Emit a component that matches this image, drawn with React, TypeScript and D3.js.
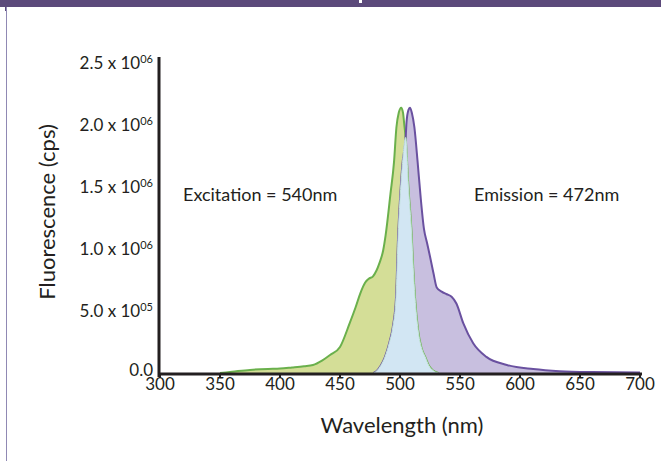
import React from "react";
import * as d3 from "d3";

const excitationNm = [350, 360, 375, 390, 400, 410, 420, 427.5, 435, 441.7, 450, 458, 463, 467, 471, 474, 477.5, 483, 486, 488, 492, 495, 497, 499, 501, 502.5, 503.6, 504.7, 507, 509.7, 511, 512.5, 515, 518, 521, 524, 527.5, 532];
const excitationVal = [0, 0.01, 0.025, 0.033, 0.036, 0.045, 0.055, 0.065, 0.1, 0.145, 0.21, 0.4, 0.53, 0.645, 0.73, 0.76, 0.78, 0.89, 0.99, 1.11, 1.44, 1.7, 1.98, 2.1, 2.14, 2.1, 2.0, 1.9, 1.5, 1.12, 0.85, 0.61, 0.35, 0.2, 0.13, 0.06, 0.02, 0];

const emissionNm = [478, 481, 484, 487.5, 491, 494, 496.7, 498.3, 500, 502, 504.7, 505.5, 507, 508.3, 509.8, 512, 514.7, 517, 520, 522.5, 525, 528, 530.6, 534.7, 539, 543, 547, 552.8, 561, 572, 589, 611, 633, 660, 700];
const emissionVal = [0, 0.02, 0.06, 0.13, 0.24, 0.37, 0.61, 1.07, 1.4, 1.68, 1.9, 2.03, 2.12, 2.14, 2.1, 1.98, 1.7, 1.44, 1.16, 1.05, 0.94, 0.8, 0.69, 0.656, 0.635, 0.615, 0.56, 0.4, 0.24, 0.13, 0.065, 0.032, 0.015, 0.008, 0.005];

const overlapNm = [478, 481, 484, 487.5, 491, 494, 496.7, 498.3, 500, 502, 504.7, 507, 509.7, 511, 512.5, 515, 518, 521, 524, 527.5, 532];
const overlapVal = [0, 0.02, 0.06, 0.13, 0.24, 0.37, 0.61, 1.07, 1.4, 1.68, 1.9, 1.5, 1.12, 0.85, 0.61, 0.35, 0.2, 0.13, 0.06, 0.02, 0];

const xTicks = [300, 350, 400, 450, 500, 550, 600, 650, 700];
const yTicks = [0, 0.5, 1.0, 1.5, 2.0, 2.5];
const yTickMain = ["0.0", "5.0 x 10", "1.0 x 10", "1.5 x 10", "2.0 x 10", "2.5 x 10"];
const yTickSup = ["", "05", "06", "06", "06", "06"];

const FONT = "Lato, 'Open Sans', sans-serif";
const TEXT = "#231f20";

export default function App() {
  const x = d3.scaleLinear().domain([300, 700]).range([160, 640]);
  const y = d3.scaleLinear().domain([0, 2.5]).range([373, 63]);

  const mk = (nm: number[], v: number[]) => nm.map((n, i) => [n, v[i]] as [number, number]);
  const area = d3.area<[number, number]>().x(d => x(d[0])).y0(y(0)).y1(d => y(d[1])).curve(d3.curveMonotoneX);
  const line = d3.line<[number, number]>().x(d => x(d[0])).y(d => y(d[1])).curve(d3.curveMonotoneX);

  const ex = mk(excitationNm, excitationVal);
  const em = mk(emissionNm, emissionVal);
  const ov = mk(overlapNm, overlapVal);

  return (
    <svg width={661} height={461} style={{ position: "absolute", left: 0, top: 0, background: "#fff" }} fontFamily={FONT}>
      <rect x={0} y={0} width={661} height={7} fill="#5c4a7b" />
      <rect x={5} y={7} width={2} height={4} fill="#5c4a7b" />
      <rect x={359} y={0} width={3} height={3} fill="#fff" />
      <line x1={6.5} y1={7} x2={6.5} y2={461} stroke="#9089b4" strokeWidth={1} />

      <path d={area(ex)!} fill="#d4de97" />
      <path d={area(em)!} fill="#c8bfdf" />
      <path d={line(ex)!} fill="none" stroke="#6ab04c" strokeWidth={2} />
      <path d={line(em)!} fill="none" stroke="#6a51a0" strokeWidth={2} />
      <path d={area(ov)!} fill="#d2e6f3" />
      <path d={line(ov)!} fill="none" stroke="#c4e4dc" strokeWidth={1} />

      <line x1={159} y1={57} x2={159} y2={377} stroke={TEXT} strokeWidth={3} />
      <line x1={158} y1={y(0) + 1} x2={642} y2={y(0) + 1} stroke={TEXT} strokeWidth={3} />
      {xTicks.map(t => (
        <g key={t}>
          <line x1={x(t)} x2={x(t)} y1={y(0) + 2} y2={y(0) + 5} stroke={TEXT} strokeWidth={2} />
          <text x={x(t)} y={390} textAnchor="middle" fontSize={17} fill={TEXT}>{t}</text>
        </g>
      ))}
      {yTicks.map((t, i) => (
        <text key={t} x={153} y={y(t) + (t === 0 ? 3 : 5.5)} textAnchor="end" fontSize={17} fill={TEXT}>
          {yTickMain[i]}
          {yTickSup[i] && <tspan fontSize={11} dy={-6}>{yTickSup[i]}</tspan>}
        </text>
      ))}

      <text x={183} y={201} fontSize={18} fill={TEXT}>Excitation = 540nm</text>
      <text x={474} y={201} fontSize={18} fill={TEXT}>Emission = 472nm</text>

      <text x={402} y={433} textAnchor="middle" fontSize={22} fill={TEXT}>Wavelength (nm)</text>
      <text transform="translate(55,212) rotate(-90)" textAnchor="middle" fontSize={22} fill={TEXT}>Fluorescence (cps)</text>
    </svg>
  );
}
